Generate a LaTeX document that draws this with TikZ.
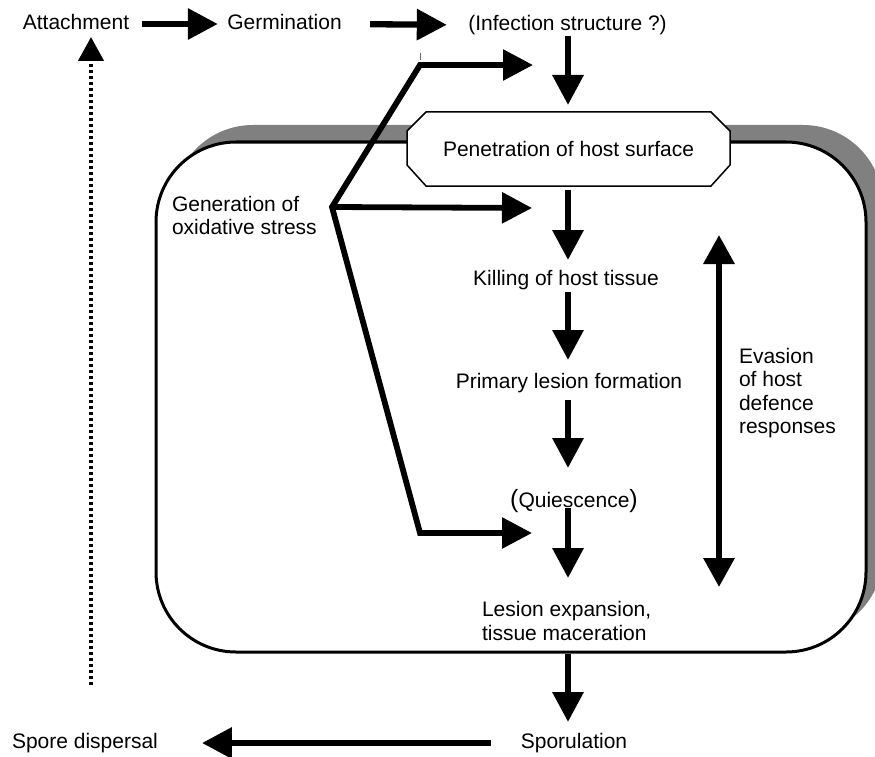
\documentclass[tikz,border=0pt]{standalone}
\usepackage{fontspec}
\setmainfont{Liberation Sans}
\usetikzlibrary{arrows.meta}
\pgfdeclarelayer{background}
\pgfsetlayers{background,main}
\begin{document}
\begin{tikzpicture}[x=1pt,y=-1pt,
  txt/.style={font=\fontsize{21}{23.5}\selectfont, inner sep=0pt, outer sep=0pt},
  lbl/.style={txt, text height=15.5pt, text depth=4.5pt},
  multi/.style={txt, align=left, anchor=west},
  bigtip/.tip={Triangle[length=30pt,width=30pt]},
  flow/.style={line width=6.3pt, -bigtip},
  stress/.style={line width=5.8pt, line join=miter},
  shadowfill/.style={fill=black!50, rounded corners=80pt},
  hostbox/.style={draw, line width=3pt, fill=white, rounded corners=80pt,
    minimum width=710pt, minimum height=510pt, inner sep=0pt, outer sep=0pt},
  octbox/.style={txt, minimum width=323pt, minimum height=74pt},
  octline/.style={draw, line width=1.5pt, fill=white}
]
\useasboundingbox (0,0) rectangle (875,757);

% axis of the main column
\coordinate (axis) at (568,0);

% nodes
\node[lbl] (att) at (76,24) {Attachment};
\node[lbl] (germ) at (284.5,24) {Germination};
\node[lbl] (inf) at (567.5,25) {(Infection structure ?)};
\node[octbox] (pen) at (568.5,149) {Penetration of host surface};
\node[multi] (gen) at (172,215.5) {Generation of\\oxidative stress};
\node[lbl] (kill) at (566,280) {Killing of host tissue};
\node[lbl] (prim) at (569,383) {Primary lesion formation};
\node[lbl] (quies) at (574,502) {{\fontsize{25}{25}\selectfont(}Quiescence{\fontsize{25}{25}\selectfont)}};
\node[multi] (lesion) at (482,621) {Lesion expansion,\\tissue maceration};
\node[multi] (evasion) at (739,393) {Evasion\\of host\\defence\\responses};
\node[lbl] (spor) at (574,743) {Sporulation};
\node[lbl] (spore) at (85,743) {Spore dispersal};

% shadowed host box and octagon behind the texts
\begin{pgfonlayer}{background}
\fill[shadowfill] (173,125) rectangle (883,635);
\node[hostbox] (host) at (511,397) {};
\path[octline] ([xshift=19pt]pen.north west) -- ([xshift=-19pt]pen.north east)
  -- ([yshift=-19pt]pen.north east) -- ([yshift=21pt]pen.south east)
  -- ([xshift=-19pt]pen.south east) -- ([xshift=19pt]pen.south west)
  -- ([yshift=21pt]pen.south west) -- ([yshift=-19pt]pen.north west) -- cycle;
\end{pgfonlayer}

% top row
\draw[flow, shorten <=13pt, shorten >=9.5pt] (att.east) -- (germ.west);
\draw[flow, shorten <=28.5pt, shorten >=21.5pt] (germ.east) -- (inf.west);

% main column
\draw[flow, shorten <=1pt, shorten >=7pt] (inf.south -| axis) -- (pen.north -| axis);
\draw[flow, shorten <=4pt, shorten >=10pt] (pen.south -| axis) -- (kill.north -| axis);
\draw[flow, shorten <=2pt, shorten >=13pt] (kill.south -| axis) -- (prim.north -| axis);
\draw[flow, shorten <=7pt, shorten >=24pt] (prim.south -| axis) -- (quies.north -| axis);
\draw[flow, shorten <=-4pt, shorten >=23.5pt] (quies.south -| axis) -- (lesion.north -| axis);
\draw[flow, shorten <=1.5pt, shorten >=11pt] (host.south -| axis) -- (spor.north -| axis);
\draw[flow, shorten <=30pt, shorten >=44pt] (spor.west) -- (spore.east);

% oxidative stress connectors
\coordinate (hub) at (332,207);
\coordinate (c1) at (420,65);
\coordinate (t1) at (533,65);
\coordinate (t2) at (532,208);
\coordinate (c3) at (420,533);
\coordinate (t3) at (532,533);
\draw[stress, bigtip-bigtip] (t1) -- (c1) -- (hub) -- (c3) -- (t3);
\draw[stress, -bigtip] (hub) -- (t2);
\draw[black!60, line width=1pt] (420,53) -- (420,60);

% evasion double arrow
\coordinate (evtop) at (719,235);
\coordinate (evbot) at (719,587);
\draw[line width=6.3pt, {Triangle[length=29pt,width=30pt]}-{Triangle[length=29pt,width=30pt]}] (evtop) -- (evbot);

% dotted return arrow
\coordinate (dotend) at (91,685);
\draw[line width=4.5pt, dash pattern=on 3pt off 3pt, -{Triangle[length=24pt,width=25pt]}, shorten >=3pt] (dotend) -- (att.south -| dotend);
\end{tikzpicture}
\end{document}
